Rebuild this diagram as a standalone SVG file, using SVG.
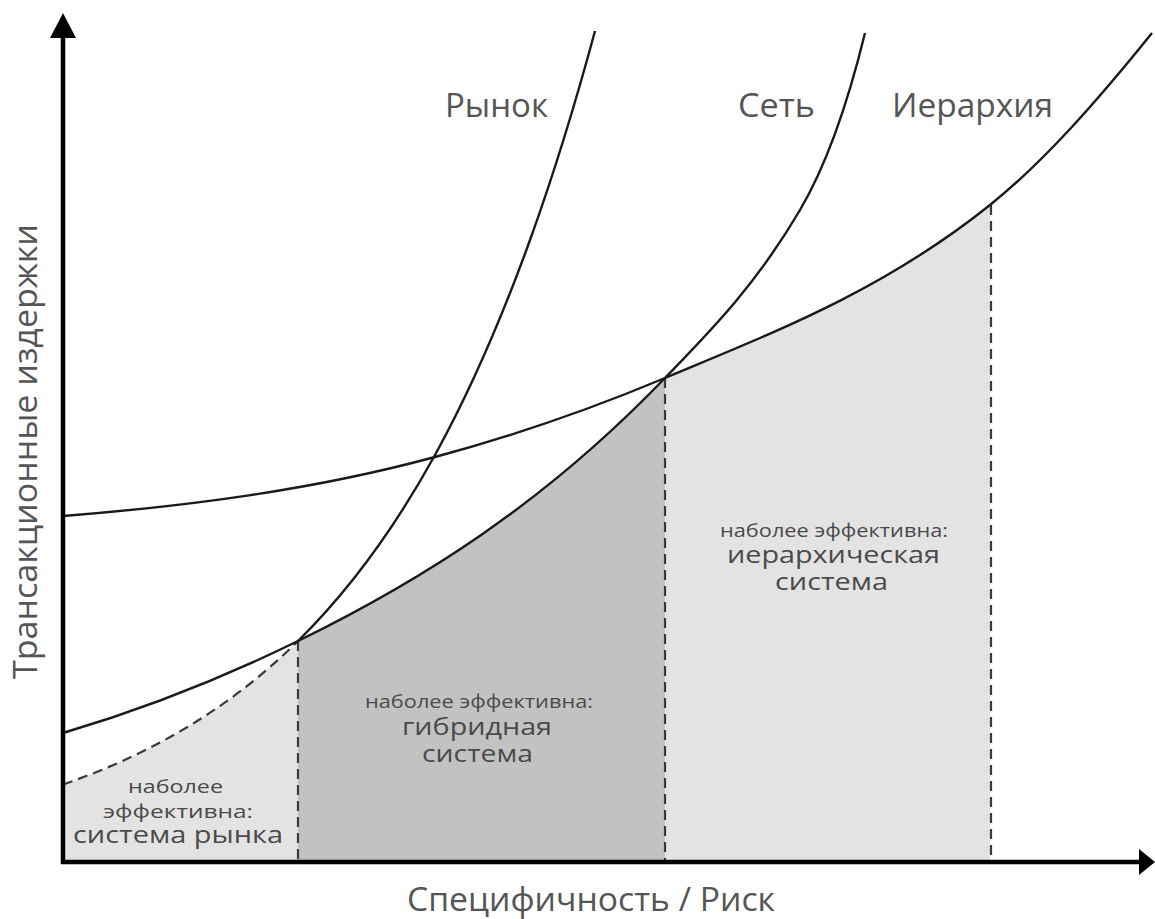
<svg xmlns="http://www.w3.org/2000/svg" width="1155" height="919" viewBox="0 0 1155 919">
<style>
  .lbl { font-family: "Open Sans", "Noto Sans", "DejaVu Sans", sans-serif; fill: #555555; }
  .reg { fill: #4a4a4a; }
  .curve { fill: none; stroke: #1a1a1a; stroke-width: 2.4; }
  .dash { fill: none; stroke: #3a3a3a; stroke-width: 2.2; stroke-dasharray: 10 6; }
  .axis { fill: none; stroke: #000000; stroke-width: 4.5; }
  .light { fill: #e3e3e3; }
  .dark { fill: #c2c2c2; }
  .big { font-size: 24px; }
  .small { font-size: 18px; }
  .title { font-size: 33px; }
</style>
<rect width="1155" height="919" fill="#ffffff"/>

<g id="region-market">
  <path class="light" d="M63,862 L63,784.5 C102,771 141,754.1 180,731.4 C219.33,708.5 258.67,679.8 298,641 L298,862 Z"/>
</g>
<g id="region-hybrid">
  <path class="dark" d="M298,862 L298,641 C420.33,581.1 542.67,505.2 665,378 L665,862 Z"/>
</g>
<g id="region-hierarchy">
  <path class="light" d="M665,862 L665,378 C773.33,332.5 881.67,291.7 990,205 L990,862 Z"/>
</g>

<g id="connectors">
  <path class="dash" d="M63,784.5 C102,771 141,754.1 180,731.4 C219.33,708.5 258.67,679.8 298,641"/>
  <line class="dash" x1="298" y1="641" x2="298" y2="860"/>
  <line class="dash" x1="665" y1="378" x2="665" y2="860"/>
  <line class="dash" x1="991" y1="205" x2="991" y2="860"/>
</g>

<g id="curve-market">
  <path class="curve" d="M298,641 C343.67,596 389.33,537.9 435,455 C466.67,397.5 498.33,327.9 530,240 C551.67,179.9 573.33,111.3 595,31"/>
</g>
<g id="curve-network">
  <path class="curve" d="M63,733 C141.33,709.8 219.67,679.4 298,641 C420.33,581.1 542.67,505.2 665,378 C710,331.2 755,286.5 800,210 C821.67,173.2 843.33,121.7 865,33"/>
</g>
<g id="curve-hierarchy">
  <path class="curve" d="M63,516 C187,506.1 311,490.5 435,457 C511.67,436.3 588.33,410.2 665,378 C773.33,332.5 881.67,291.7 990,205 C1043.33,162.3 1096.67,101.7 1152,33"/>
</g>

<g id="axes">
  <line class="axis" x1="63" y1="864" x2="63" y2="32"/>
  <polygon points="63,13 76,38 50,38" fill="#000"/>
  <line class="axis" x1="61" y1="862" x2="1142" y2="862"/>
  <polygon points="1155,862 1139,849 1139,875" fill="#000"/>
</g>

<g id="label-market">
  <text class="lbl title" x="445" y="117" textLength="103" lengthAdjust="spacingAndGlyphs">Рынок</text>
</g>
<g id="label-network">
  <text class="lbl title" x="738" y="117" textLength="77" lengthAdjust="spacingAndGlyphs">Сеть</text>
</g>
<g id="label-hierarchy">
  <text class="lbl title" x="892" y="117" textLength="161" lengthAdjust="spacingAndGlyphs">Иерархия</text>
</g>
<g id="label-y">
  <text class="lbl title" transform="translate(37,452) rotate(-90)" x="-227" y="0" textLength="455" lengthAdjust="spacingAndGlyphs">Трансакционные издержки</text>
</g>
<g id="label-x">
  <text class="lbl title" x="407" y="911" textLength="368" lengthAdjust="spacingAndGlyphs">Специфичность / Риск</text>
</g>

<g id="text-market">
  <text class="lbl reg small" x="128" y="793" textLength="95" lengthAdjust="spacingAndGlyphs">наболее</text>
  <text class="lbl reg small" x="103" y="818" textLength="150" lengthAdjust="spacingAndGlyphs">эффективна:</text>
  <text class="lbl reg big" x="73" y="843" textLength="210" lengthAdjust="spacingAndGlyphs">система рынка</text>
</g>
<g id="text-hybrid">
  <text class="lbl reg small" x="365" y="708" textLength="228" lengthAdjust="spacingAndGlyphs">наболее эффективна:</text>
  <text class="lbl reg big" x="402" y="735" textLength="150" lengthAdjust="spacingAndGlyphs">гибридная</text>
  <text class="lbl reg big" x="422" y="762" textLength="111" lengthAdjust="spacingAndGlyphs">система</text>
</g>
<g id="text-hierarchy">
  <text class="lbl reg small" x="720" y="537" textLength="228" lengthAdjust="spacingAndGlyphs">наболее эффективна:</text>
  <text class="lbl reg big" x="727" y="563" textLength="213" lengthAdjust="spacingAndGlyphs">иерархическая</text>
  <text class="lbl reg big" x="775" y="590" textLength="113" lengthAdjust="spacingAndGlyphs">система</text>
</g>
</svg>
